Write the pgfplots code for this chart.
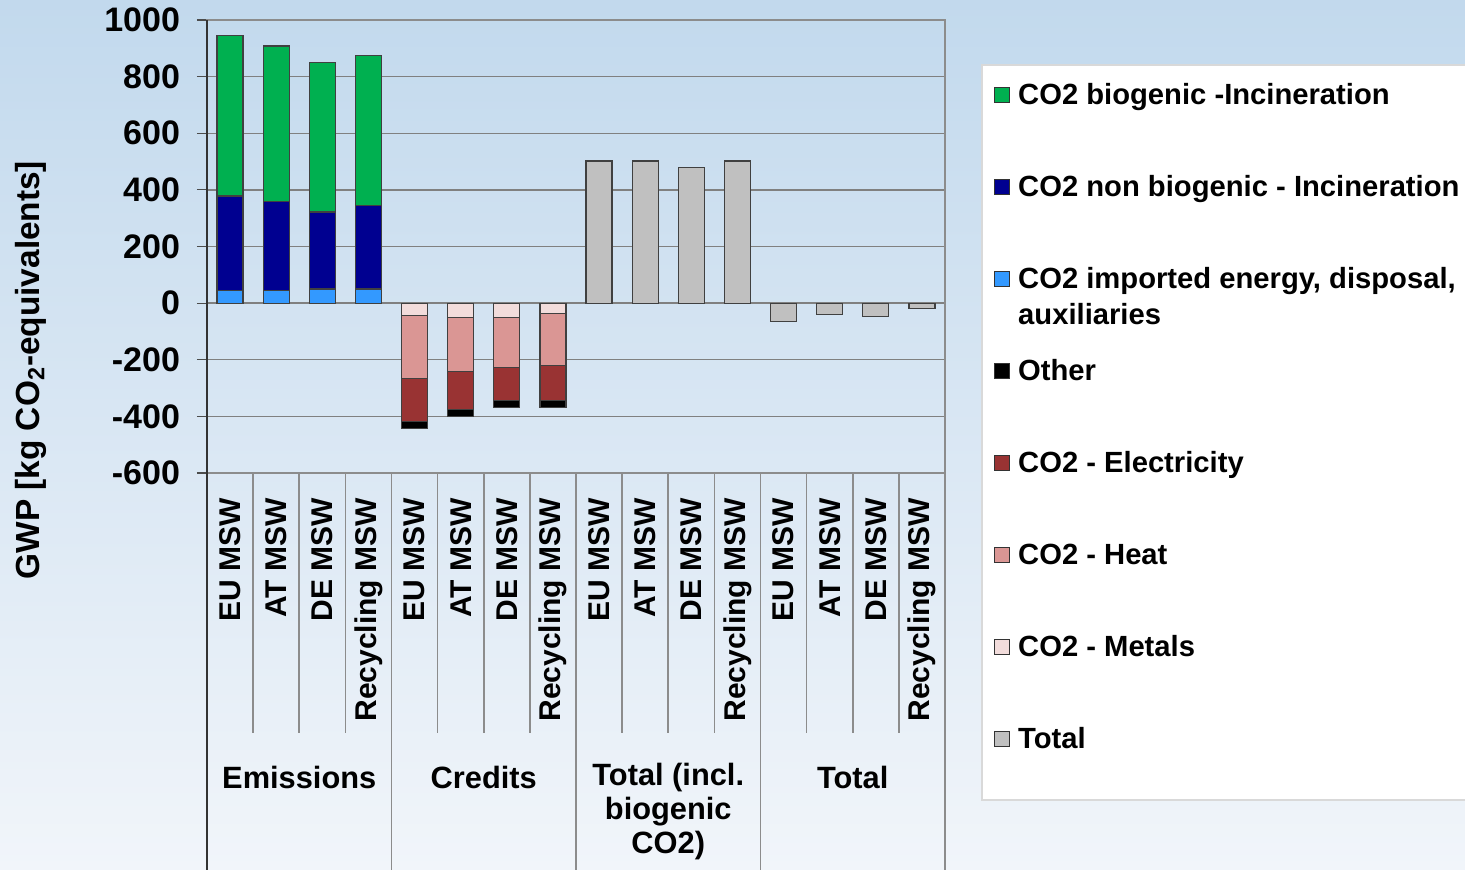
\documentclass[border=0pt]{standalone}
\usepackage{pgfplots}
\pgfplotsset{compat=1.18}
\usepackage{pgfplotstable}
\usepackage{fontspec}
\setmainfont{Liberation Sans}

\definecolor{cBio}{HTML}{00B050}
\definecolor{cNon}{HTML}{000090}
\definecolor{cImp}{HTML}{3399FF}
\definecolor{cOth}{HTML}{000000}
\definecolor{cEle}{HTML}{993333}
\definecolor{cHea}{HTML}{DA9694}
\definecolor{cMet}{HTML}{F2DCDB}
\definecolor{cTot}{HTML}{C0C0C0}
\definecolor{bgtop}{RGB}{194,217,237}
\definecolor{bgbot}{RGB}{241,245,250}

\pgfplotstableread{
x  imp nonbio bio metals heat elec other total
0  44  334  568  0    0    0    0    0
1  44  316  548  0    0    0    0    0
2  50  272  528  0    0    0    0    0
3  50  295  529  0    0    0    0    0
4  0   0    0   -43  -222 -153  -24   0
5  0   0    0   -51  -191 -135  -23   0
6  0   0    0   -52  -174 -118  -25   0
7  0   0    0   -37  -183 -124  -25   0
8  0   0    0    0    0    0    0   502
9  0   0    0    0    0    0    0   502
10 0   0    0    0    0    0    0   478
11 0   0    0    0    0    0    0   502
12 0   0    0    0    0    0    0   -64
13 0   0    0    0    0    0    0   -40
14 0   0    0    0    0    0    0   -46
15 0   0    0    0    0    0    0   -18
}\data

\newcommand{\lf}{\fontsize{14.6}{18}\selectfont\bfseries}
\newcommand{\xf}{\fontsize{15}{18}\selectfont\bfseries}
\newcommand{\yf}{\fontsize{17}{20}\selectfont\bfseries}
\newcommand{\gf}{\fontsize{15.4}{17}\selectfont\bfseries}

\begin{document}
\begin{tikzpicture}
\shade[top color=bgtop, bottom color=bgbot] (-103.5pt,-198.5pt) rectangle (629pt,236.5pt);
\draw[draw=black!15, fill=white, line width=0.6pt] (387.5pt,204pt) rectangle (660pt,-163.5pt);
\begin{axis}[
  scale only axis, width=369pt, height=226.5pt,
  at={(0pt,0pt)}, anchor=south west,
  ybar stacked, bar width=13pt,
  xmin=-0.5, xmax=15.5, ymin=-600, ymax=1000,
  ytick={-600,-400,...,1000},
  xtick={0,...,15},
  xticklabels={EU MSW, AT MSW, DE MSW, Recycling MSW, EU MSW, AT MSW, DE MSW, Recycling MSW, EU MSW, AT MSW, DE MSW, Recycling MSW, EU MSW, AT MSW, DE MSW, Recycling MSW},
  ymajorgrids, grid style={black!50, line width=0.7pt},
  axis line style={black!45, line width=0.9pt},
  tick align=outside, major tick length=5pt,
  ytick pos=left,
  ytick style={black!70, line width=0.6pt},
  xtick style={draw=none},
  clip=false,
  xticklabel style={font=\xf, rotate=90, anchor=east},
  xticklabel shift=4pt,
  yticklabel style={font=\yf, xshift=-5pt},
  /pgf/number format/assume math mode=true,
  /pgf/number format/1000 sep={},
  ylabel={\fontsize{16.7}{20}\selectfont\bfseries GWP [kg CO\textsubscript{2}-equivalents]},
  ylabel style={at={(axis description cs:-0.239,0.227)}, anchor=center},
  legend style={at={(axis description cs:1.058,0.885)}, anchor=north west,
     draw=none, fill=none, row sep=26pt, column sep=2pt, font=\lf,
     nodes={text height=12pt, text depth=4pt, inner sep=2pt}},
  legend cell align=left,
  sqlegend/.style={legend image code/.code={\draw[##1, draw=black!80, line width=0.5pt] (0pt,-2.8pt) rectangle (7.5pt,4.7pt);}},
]
\addlegendimage{sqlegend, fill=cBio}\addlegendentry{CO2 biogenic -Incineration}
\addlegendimage{sqlegend, fill=cNon}\addlegendentry{CO2 non biogenic - Incineration}
\addlegendimage{sqlegend, fill=cImp}\addlegendentry{\vtop{\hbox{CO2 imported energy, disposal,}\hbox{auxiliaries}}}
\addlegendimage{sqlegend, fill=cOth}\addlegendentry{Other}
\addlegendimage{sqlegend, fill=cEle}\addlegendentry{CO2 - Electricity}
\addlegendimage{sqlegend, fill=cHea}\addlegendentry{CO2 - Heat}
\addlegendimage{sqlegend, fill=cMet}\addlegendentry{CO2 - Metals}
\addlegendimage{sqlegend, fill=cTot}\addlegendentry{Total}

\addplot[fill=cImp, draw=black!75, line width=0.6pt, forget plot] table[x=x,y=imp]{\data};
\addplot[fill=cNon, draw=black!75, line width=0.6pt, forget plot] table[x=x,y=nonbio]{\data};
\addplot[fill=cBio, draw=black!75, line width=0.6pt, forget plot] table[x=x,y=bio]{\data};
\addplot[fill=cMet, draw=black!75, line width=0.6pt, forget plot] table[x=x,y=metals]{\data};
\addplot[fill=cHea, draw=black!75, line width=0.6pt, forget plot] table[x=x,y=heat]{\data};
\addplot[fill=cEle, draw=black!75, line width=0.6pt, forget plot] table[x=x,y=elec]{\data};
\addplot[fill=cOth, draw=black!75, line width=0.6pt, forget plot] table[x=x,y=other]{\data};
\addplot[fill=cTot, draw=black!75, line width=0.6pt, forget plot] table[x=x,y=total]{\data};

\pgfplotsinvokeforeach{0.5,1.5,2.5,4.5,5.5,6.5,8.5,9.5,10.5,12.5,13.5,14.5}{
  \draw[black!45, line width=0.8pt] (axis cs:#1,-600) -- (axis cs:#1,-1518);
}
\pgfplotsinvokeforeach{3.5,7.5,11.5,15.5}{
  \draw[black!45, line width=0.8pt] (axis cs:#1,-600) -- (axis cs:#1,-2100);
}
\draw[black!80, line width=0.9pt] (axis cs:-0.5,1000) -- (axis cs:-0.5,-2100);
\node[font=\gf, anchor=center] at (axis cs:1.5,-1674) {Emissions};
\node[font=\gf, anchor=center] at (axis cs:5.5,-1674) {Credits};
\node[font=\gf, anchor=center, align=center] at (axis cs:9.5,-1794) {Total (incl.\\biogenic\\CO2)};
\node[font=\gf, anchor=center] at (axis cs:13.5,-1674) {Total};
\end{axis}
\pgfresetboundingbox
\useasboundingbox (-103.5pt,-198.5pt) rectangle (629pt,236.5pt);
\end{tikzpicture}
\end{document}
